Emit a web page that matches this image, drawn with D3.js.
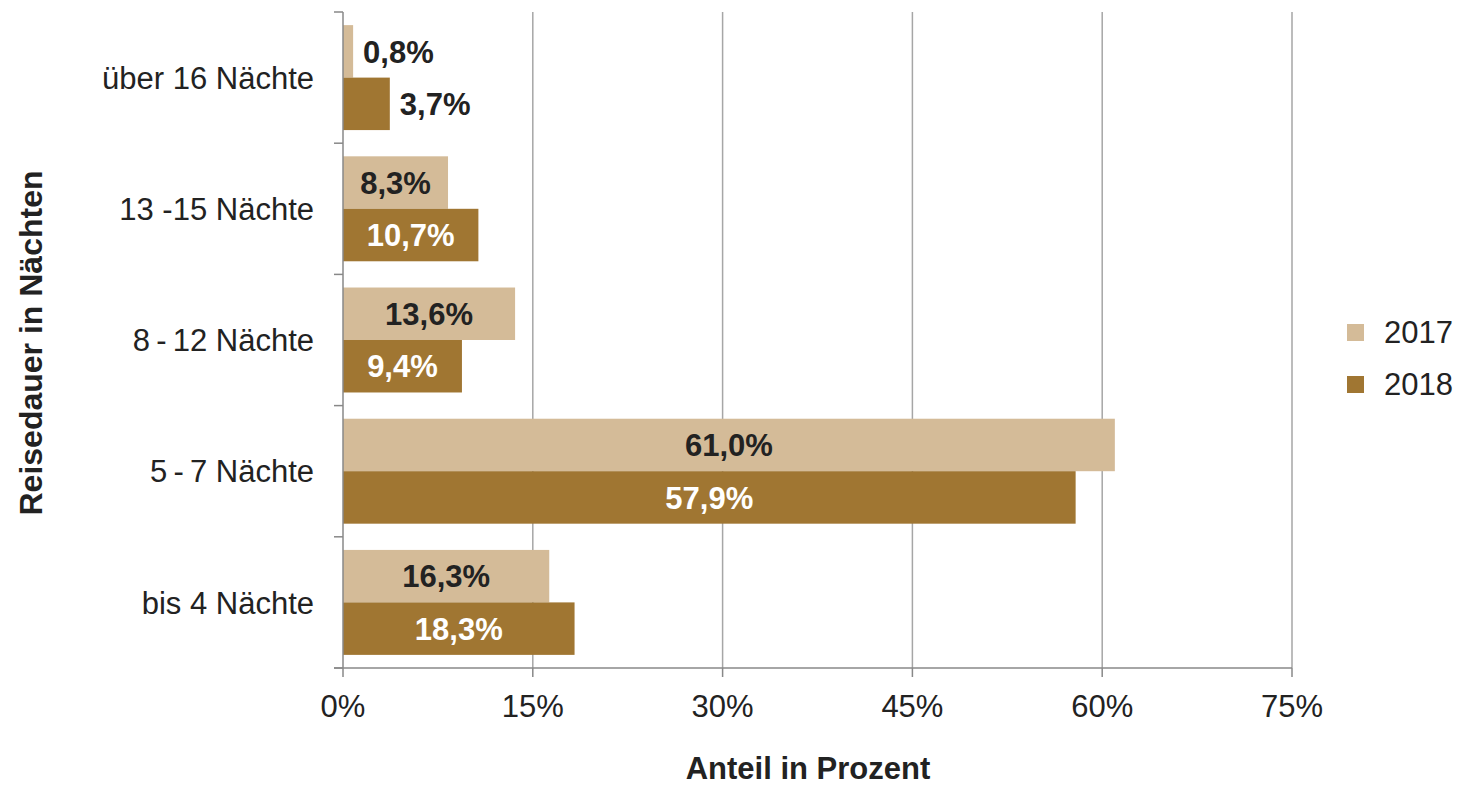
<!DOCTYPE html>
<html>
<head>
<meta charset="utf-8">
<script src="https://cdn.jsdelivr.net/npm/d3@7"></script>
<style>
  body { margin: 0; background: #fff; }
  svg { display: block; font-family: "Liberation Sans", Arial, sans-serif; }
</style>
</head>
<body>
<div id="chart"></div>
<script>
const categories = ["über 16 Nächte", "13 -15 Nächte", "8\u2009-\u200912 Nächte", "5\u2009-\u20097 Nächte", "bis 4 Nächte"];
const series = ["2017", "2018"];
const values2017 = [0.8, 8.3, 13.6, 61.0, 16.3];
const values2018 = [3.7, 10.7, 9.4, 57.9, 18.3];
const xTicks = [0, 15, 30, 45, 60, 75];
const colors = ["#d4bb98", "#a07632"];

const width = 1461, height = 786;
const margin = { top: 12, left: 343, right: 169, bottom: 118 };
const plotW = width - margin.left - margin.right;
const plotH = height - margin.top - margin.bottom;

const svg = d3.select("#chart").append("svg")
    .attr("width", width)
    .attr("height", height);

const g = svg.append("g").attr("transform", `translate(${margin.left},${margin.top})`);

const x = d3.scaleLinear().domain([0, 75]).range([0, plotW]);

// gridlines
g.selectAll(".grid").data(xTicks.slice(1)).join("line")
    .attr("x1", d => x(d)).attr("x2", d => x(d))
    .attr("y1", 0).attr("y2", plotH)
    .attr("stroke", "#a6a6a6").attr("stroke-width", 1.5);

// category boundary ticks on the y axis
const step = plotH / categories.length;
const yTickPos = d3.range(categories.length + 1).map(i => i * step);
g.selectAll(".ytick").data(yTickPos).join("line")
    .attr("x1", -9).attr("x2", 0)
    .attr("y1", d => d).attr("y2", d => d)
    .attr("stroke", "#888").attr("stroke-width", 1.5);

// bars
const fmt = v => d3.format(".1f")(v).replace(".", ",") + "%";
const rows = [];
categories.forEach((c, i) => {
    rows.push({ cat: c, s: "2017", v: values2017[i], color: colors[0], text: "#222" });
    rows.push({ cat: c, s: "2018", v: values2018[i], color: colors[1], text: "#fff" });
});

const barPad = step * 0.1;
const barH = (step - 2 * barPad) / 2;
const barY = d => categories.indexOf(d.cat) * step + barPad + (d.s === "2017" ? 0 : barH);

g.selectAll(".bar").data(rows).join("rect")
    .attr("x", 0)
    .attr("y", barY)
    .attr("width", d => x(d.v))
    .attr("height", barH)
    .attr("fill", d => d.color);

// small values get their label outside the bar
g.selectAll(".lbl").data(rows).join("text")
    .attr("x", d => d.v < 5 ? x(d.v) + 10 : x(d.v) / 2)
    .attr("y", d => barY(d) + barH / 2)
    .attr("dy", "0.36em")
    .attr("text-anchor", d => d.v < 5 ? "start" : "middle")
    .attr("font-size", 31).attr("font-weight", "bold")
    .attr("fill", d => d.v < 5 ? "#222" : d.text)
    .text(d => fmt(d.v));

// axis lines
g.append("line").attr("x1", 0).attr("x2", 0).attr("y1", 0).attr("y2", plotH)
    .attr("stroke", "#888").attr("stroke-width", 1.5);
g.append("line").attr("x1", -9).attr("x2", plotW).attr("y1", plotH).attr("y2", plotH)
    .attr("stroke", "#888").attr("stroke-width", 1.5);
g.selectAll(".xtick").data(xTicks).join("line")
    .attr("x1", d => x(d)).attr("x2", d => x(d))
    .attr("y1", plotH).attr("y2", plotH + 9)
    .attr("stroke", "#888").attr("stroke-width", 1.5);

// x tick labels
g.selectAll(".xlab").data(xTicks).join("text")
    .attr("x", d => x(d)).attr("y", plotH + 49)
    .attr("text-anchor", "middle")
    .attr("font-size", 31).attr("fill", "#222")
    .text(d => d + "%");

// y category labels
g.selectAll(".ylab").data(categories).join("text")
    .attr("x", -29)
    .attr("y", (d, i) => i * step + step / 2)
    .attr("dy", "0.36em")
    .attr("text-anchor", "end")
    .attr("font-size", 31).attr("fill", "#222")
    .text(d => d);

// axis titles
svg.append("text")
    .attr("x", margin.left + plotW * 0.49).attr("y", 779)
    .attr("text-anchor", "middle")
    .attr("font-size", 31).attr("font-weight", "bold").attr("fill", "#222")
    .text("Anteil in Prozent");

svg.append("text")
    .attr("transform", "translate(42,343) rotate(-90)")
    .attr("text-anchor", "middle")
    .attr("font-size", 32).attr("font-weight", "bold").attr("fill", "#222")
    .text("Reisedauer in Nächten");

// legend
const legend = svg.append("g").attr("transform", "translate(1347,324)");
series.forEach((s, i) => {
    const row = legend.append("g").attr("transform", `translate(0,${i * 52})`);
    row.append("rect").attr("width", 17).attr("height", 17).attr("fill", colors[i]);
    row.append("text").attr("x", 37).attr("y", 19)
        .attr("font-size", 31).attr("fill", "#222")
        .text(s);
});
</script>
</body>
</html>
